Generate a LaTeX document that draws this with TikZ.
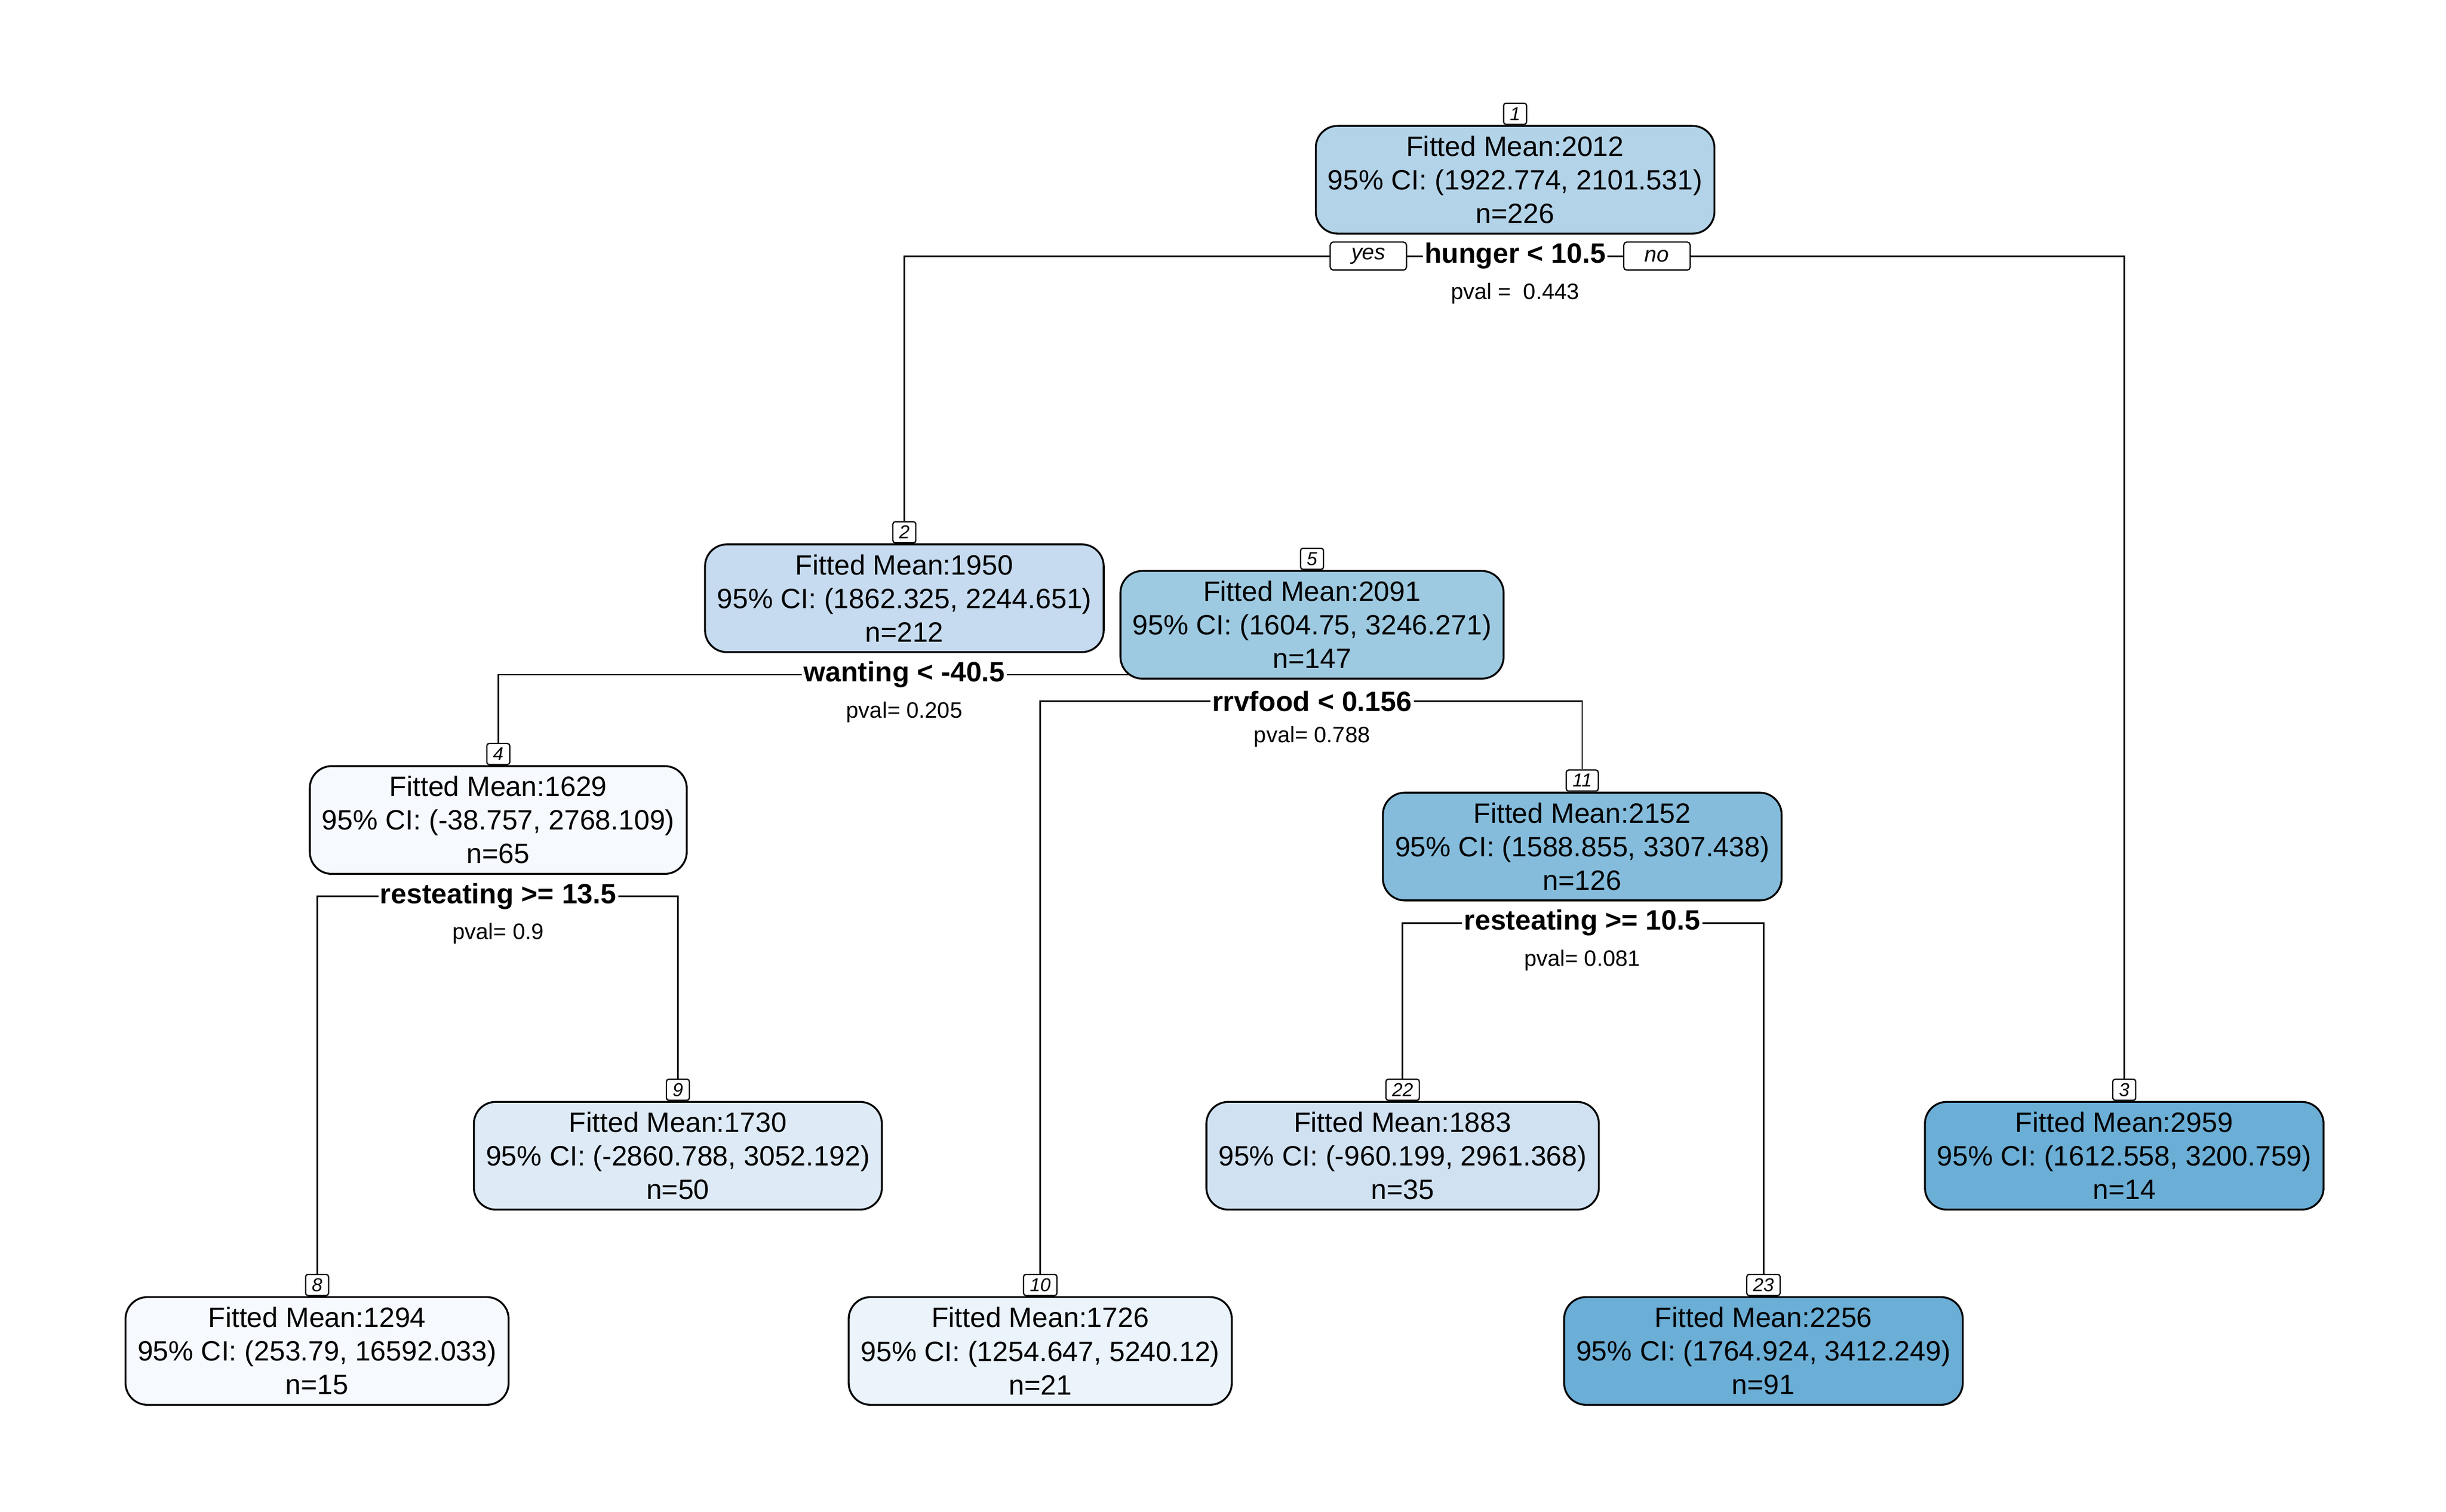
\documentclass[tikz,border=0pt]{standalone}
\usepackage{fontspec}
\setmainfont{Liberation Sans}
\usetikzlibrary{positioning,backgrounds}
\definecolor{fillA}{RGB}{179,211,232}
\definecolor{fillB}{RGB}{198,219,239}
\definecolor{fillC}{RGB}{158,202,225}
\definecolor{fillD}{RGB}{246,250,255}
\definecolor{fillE}{RGB}{133,188,220}
\definecolor{fillF}{RGB}{222,235,247}
\definecolor{fillG}{RGB}{208,225,242}
\definecolor{fillH}{RGB}{107,174,214}
\definecolor{fillI}{RGB}{235,243,251}

\begin{document}
\begin{tikzpicture}[x=1pt,y=-1pt,
leaf/.style ={draw, line width=1.2pt, rounded corners=14pt, anchor=north, align=center,
inner xsep=7.7pt, minimum height=69pt, font=\fontsize{17.9}{21.5}\selectfont},
tag/.style ={draw, line width=0.8pt, rounded corners=1.5pt, fill=white, inner xsep=4pt,
inner ysep=0pt, minimum height=13.5pt, font=\fontsize{12}{12}\selectfont\itshape},
split/.style ={fill=white, inner xsep=1pt, inner ysep=1pt, font=\fontsize{17.9}{20}\selectfont\bfseries},
pv/.style ={on grid, font=\fontsize{14.3}{16}\selectfont},
yn/.style ={draw, line width=0.8pt, rounded corners=2pt, fill=white, inner xsep=13.5pt,
inner ysep=0pt, minimum height=18pt, font=\fontsize{14}{14}\selectfont\itshape},
branch/.style ={line width=1pt}]

\useasboundingbox (0,0) rectangle (1566,968);

    \node[leaf, fill=fillA] (n1) at (970,80) {Fitted Mean:2012\\95\% CI: (1922.774, 2101.531)\\n=226};
    \node[leaf, fill=fillB] (n2) at (579,348) {Fitted Mean:1950\\95\% CI: (1862.325, 2244.651)\\n=212};
    \node[leaf, fill=fillC] (n5) at (840,365) {Fitted Mean:2091\\95\% CI: (1604.75, 3246.271)\\n=147};
    \node[leaf, fill=fillD] (n4) at (319,490) {Fitted Mean:1629\\95\% CI: (-38.757, 2768.109)\\n=65};
    \node[leaf, fill=fillE] (n11) at (1013,507) {Fitted Mean:2152\\95\% CI: (1588.855, 3307.438)\\n=126};
    \node[leaf, fill=fillF] (n9) at (434,705) {Fitted Mean:1730\\95\% CI: (-2860.788, 3052.192)\\n=50};
    \node[leaf, fill=fillG] (n22) at (898,705) {Fitted Mean:1883\\95\% CI: (-960.199, 2961.368)\\n=35};
    \node[leaf, fill=fillH] (n3) at (1360,705) {Fitted Mean:2959\\95\% CI: (1612.558, 3200.759)\\n=14};
    \node[leaf, fill=fillD] (n8) at (203,830) {Fitted Mean:1294\\95\% CI: (253.79, 16592.033)\\n=15};
    \node[leaf, fill=fillI] (n10) at (666,830) {Fitted Mean:1726\\95\% CI: (1254.647, 5240.12)\\n=21};
    \node[leaf, fill=fillH] (n23) at (1129,830) {Fitted Mean:2256\\95\% CI: (1764.924, 3412.249)\\n=91};

    \node[tag] (k1) [above=0pt of n1] {1};
    \node[tag] (k2) [above=0pt of n2] {2};
    \node[tag] (k5) [above=0pt of n5] {5};
    \node[tag] (k4) [above=0pt of n4] {4};
    \node[tag] (k11) [above=0pt of n11] {11};
    \node[tag] (k9) [above=0pt of n9] {9};
    \node[tag] (k22) [above=0pt of n22] {22};
    \node[tag] (k3) [above=0pt of n3] {3};
    \node[tag] (k8) [above=0pt of n8] {8};
    \node[tag] (k10) [above=0pt of n10] {10};
    \node[tag] (k23) [above=0pt of n23] {23};

    \node[split] (s1) at (970,164) {hunger < 10.5};
    \node[split] (s2) at (579,432) {wanting < -40.5};
    \node[split] (s5) at (840,449) {rrvfood < 0.156};
    \node[split] (s4) at (319,574) {resteating >= 13.5};
    \node[split] (s11) at (1013,591) {resteating >= 10.5};

    \node[yn] (yes) [left=10pt of s1] {yes};
    \node[yn] (no) [right=10pt of s1] {no};

    \node[pv] (p1) [below=24pt of s1] {pval =\ \ 0.443};
    \node[pv] (p2) [below=24pt of s2] {pval= 0.205};
    \node[pv] (p5) [below=23pt of s5] {pval= 0.788};
    \node[pv] (p4) [below=24pt of s4] {pval= 0.9};
    \node[pv] (p11) [below=24pt of s11] {pval= 0.081};

    \begin{scope}[on background layer]
    \draw[branch] (k2.north) |- (s1.west);
    \draw[branch] (s1.east) -| (k3.north);
    \draw[branch] (k4.north) |- (s2.west);
    \draw[branch] (s2.east) -| (n5);
    \draw[branch] (k10.north) |- (s5.west);
    \draw[branch] (s5.east) -| (k11.north);
    \draw[branch] (k8.north) |- (s4.west);
    \draw[branch] (s4.east) -| (k9.north);
    \draw[branch] (k22.north) |- (s11.west);
    \draw[branch] (s11.east) -| (k23.north);
    \end{scope}

\end{tikzpicture}
\end{document}
